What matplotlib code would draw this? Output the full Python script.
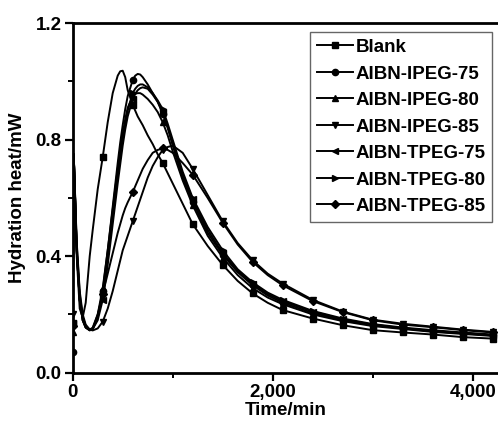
import numpy as np
import matplotlib
matplotlib.use('Agg')
import matplotlib.pyplot as plt
from matplotlib.ticker import FuncFormatter, MultipleLocator

plt.rcParams['font.family'] = ['Liberation Sans', 'DejaVu Sans']
plt.rcParams['font.weight'] = 'bold'

# time axis (min)
t = [0, 10, 40, 70, 100, 130, 170, 200, 250, 300, 350, 400, 450, 475, 500, 525,
     550, 600, 625, 650, 675, 700, 750, 800, 850, 900, 950, 1000, 1100, 1200,
     1350, 1500, 1650, 1800, 1950, 2100, 2400, 2700, 3000, 3300, 3600, 3900, 4200]

blank = [0.17, 0.75, 0.40, 0.22, 0.19, 0.24, 0.40, 0.49, 0.63, 0.74, 0.86, 0.96,
         1.02, 1.035, 1.037, 1.015, 0.97, 0.92, 0.90, 0.88, 0.865, 0.85, 0.815,
         0.785, 0.75, 0.72, 0.685, 0.65, 0.58, 0.51, 0.435, 0.37, 0.315, 0.272,
         0.24, 0.215, 0.186, 0.163, 0.146, 0.138, 0.131, 0.122, 0.117]
ipeg75 = [0.072, 0.75, 0.42, 0.25, 0.19, 0.16, 0.148, 0.15, 0.19, 0.28, 0.42, 0.57,
          0.72, 0.79, 0.85, 0.905, 0.95, 1.005, 1.02, 1.026, 1.024, 1.015, 0.99,
          0.96, 0.93, 0.89, 0.84, 0.78, 0.67, 0.585, 0.48, 0.405, 0.345, 0.30,
          0.265, 0.24, 0.205, 0.18, 0.163, 0.152, 0.142, 0.135, 0.128]
ipeg80 = [0.14, 0.75, 0.42, 0.25, 0.18, 0.155, 0.147, 0.155, 0.20, 0.29, 0.42, 0.56,
          0.70, 0.765, 0.82, 0.87, 0.91, 0.95, 0.958, 0.96, 0.96, 0.955, 0.94,
          0.92, 0.895, 0.86, 0.815, 0.76, 0.66, 0.575, 0.47, 0.395, 0.335, 0.29,
          0.258, 0.235, 0.20, 0.177, 0.16, 0.15, 0.14, 0.133, 0.126]
ipeg85 = [0.20, 0.75, 0.45, 0.28, 0.20, 0.165, 0.148, 0.145, 0.152, 0.175, 0.22,
          0.28, 0.35, 0.385, 0.42, 0.445, 0.47, 0.52, 0.545, 0.57, 0.595, 0.62,
          0.67, 0.71, 0.74, 0.765, 0.775, 0.78, 0.755, 0.70, 0.61, 0.52, 0.445,
          0.386, 0.34, 0.306, 0.25, 0.21, 0.182, 0.168, 0.158, 0.148, 0.14]
tpeg75 = [0.17, 0.75, 0.42, 0.25, 0.18, 0.155, 0.145, 0.15, 0.18, 0.25, 0.37, 0.51,
          0.65, 0.715, 0.78, 0.835, 0.88, 0.94, 0.958, 0.97, 0.977, 0.98, 0.975,
          0.955, 0.93, 0.895, 0.845, 0.79, 0.68, 0.595, 0.49, 0.41, 0.35, 0.305,
          0.27, 0.245, 0.21, 0.183, 0.165, 0.153, 0.143, 0.136, 0.129]
tpeg80 = [0.16, 0.75, 0.42, 0.25, 0.18, 0.155, 0.146, 0.152, 0.19, 0.27, 0.40, 0.54,
          0.68, 0.74, 0.80, 0.855, 0.90, 0.96, 0.975, 0.985, 0.99, 0.99, 0.98,
          0.96, 0.935, 0.905, 0.855, 0.80, 0.69, 0.60, 0.50, 0.42, 0.355, 0.31,
          0.275, 0.25, 0.212, 0.186, 0.167, 0.155, 0.146, 0.138, 0.131]
tpeg85 = [0.16, 0.75, 0.44, 0.27, 0.19, 0.16, 0.147, 0.15, 0.20, 0.27, 0.34, 0.41,
          0.48, 0.51, 0.54, 0.565, 0.585, 0.62, 0.64, 0.66, 0.68, 0.70, 0.73,
          0.755, 0.765, 0.77, 0.765, 0.755, 0.72, 0.68, 0.60, 0.515, 0.44, 0.38,
          0.335, 0.30, 0.246, 0.208, 0.18, 0.165, 0.156, 0.146, 0.138]

labels = ['Blank', 'AIBN-IPEG-75', 'AIBN-IPEG-80', 'AIBN-IPEG-85',
          'AIBN-TPEG-75', 'AIBN-TPEG-80', 'AIBN-TPEG-85']
series = [blank, ipeg75, ipeg80, ipeg85, tpeg75, tpeg80, tpeg85]
markers = ['s', 'o', '^', 'v', '<', '>', 'D']

# markers sit every 300 min
mark_idx = [i for i, v in enumerate(t) if v % 300 == 0]

fig = plt.figure(figsize=(4.98, 4.23), dpi=100)
ax = fig.add_axes([0.146, 0.119, 0.854, 0.826])

for y, lab, m in zip(series, labels, markers):
    ax.plot(t, y, color='black', lw=1.4, marker=m,
            ms=4.5 if m != 'D' else 4, markevery=mark_idx, label=lab)

ax.set_xlim(0, 4253)
ax.set_ylim(0, 1.2)
ax.xaxis.set_major_locator(MultipleLocator(2000))
ax.xaxis.set_minor_locator(MultipleLocator(1000))
ax.yaxis.set_major_locator(MultipleLocator(0.4))
ax.yaxis.set_minor_locator(MultipleLocator(0.2))
ax.xaxis.set_major_formatter(FuncFormatter(lambda v, p: f'{int(v):,}'))
ax.yaxis.set_major_formatter(FuncFormatter(lambda v, p: f'{v:.1f}'))

for s in ['left', 'bottom', 'top']:
    ax.spines[s].set_linewidth(2)
ax.spines['right'].set_visible(False)
ax.tick_params(which='major', direction='out', length=6, width=1.6,
               labelsize=13.5, pad=2)
ax.tick_params(which='minor', direction='out', length=3.5, width=1.4)
ax.tick_params(top=False, right=False)

ax.set_xlabel('Time/min', fontsize=13.5, fontweight='bold', labelpad=1)
ax.set_ylabel('Hydration heat/mW', fontsize=13.5, fontweight='bold', labelpad=7)

leg = ax.legend(loc='upper right', bbox_to_anchor=(0.986, 0.974),
                borderaxespad=0, fontsize=13.5, fancybox=False,
                edgecolor='#666666', handlelength=1.9, handletextpad=0.15,
                labelspacing=0.5, borderpad=0.35, framealpha=1)
leg.get_frame().set_linewidth(1.0)

fig.savefig('out.png', dpi=100)
